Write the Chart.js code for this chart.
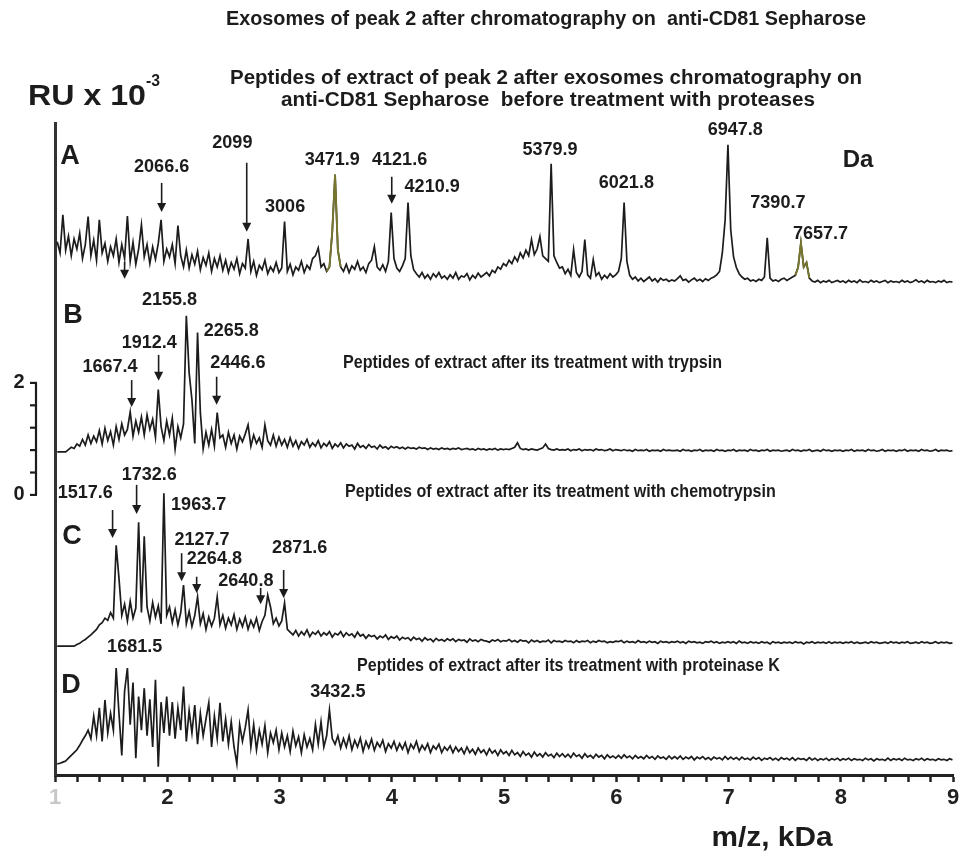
<!DOCTYPE html>
<html>
<head>
<meta charset="utf-8">
<script src="https://cdn.jsdelivr.net/npm/chart.js@4.4.1/dist/chart.umd.min.js"></script>
<style>
  html, body { margin: 0; padding: 0; background: #fff; }
  #chart { display: block; }
</style>
</head>
<body>
<canvas id="chart" width="969" height="856"></canvas>
<script>
"use strict";

// m/z sampling of the spectra, kDa
const mzStart = 1.02;
const mzStep = 0.025;

// intensities (RU x 10^-3) above each trace's own baseline, one value per sample
const spectrumA = [
  0.75, 0.55, 1.23, 0.60, 0.85, 0.50, 0.80, 0.62, 0.90, 0.45, 0.70, 1.20, 0.50, 0.78, 0.42, 1.14, 0.55, 0.72, 0.40, 0.66,
  0.50, 0.80, 0.38, 0.70, 0.45, 1.21, 0.40, 0.74, 0.35, 0.62, 1.05, 0.48, 0.70, 0.36, 0.66, 0.44, 0.72, 1.14, 0.40, 0.62,
  0.48, 0.70, 0.36, 1.04, 0.50, 0.30, 0.60, 0.28, 0.52, 0.35, 0.58, 0.25, 0.47, 0.33, 0.55, 0.22, 0.45, 0.30, 0.50, 0.24,
  0.42, 0.20, 0.38, 0.26, 0.45, 0.18, 0.36, 0.28, 0.80, 0.22, 0.40, 0.15, 0.33, 0.25, 0.42, 0.18, 0.30, 0.22, 0.38, 0.20,
  0.28, 1.11, 0.22, 0.35, 0.16, 0.30, 0.24, 0.40, 0.20, 0.33, 0.26, 0.45, 0.50, 0.64, 0.30, 0.36, 0.22, 0.30, 0.93, 1.95,
  0.60, 0.30, 0.22, 0.35, 0.20, 0.32, 0.26, 0.40, 0.24, 0.30, 0.20, 0.36, 0.42, 0.66, 0.30, 0.24, 0.34, 0.22, 0.40, 1.27,
  0.45, 0.28, 0.22, 0.32, 0.45, 1.45, 0.50, 0.25, 0.18, 0.12, 0.20, 0.10, 0.16, 0.08, 0.18, 0.12, 0.20, 0.10, 0.14, 0.08,
  0.16, 0.10, 0.20, 0.08, 0.14, 0.12, 0.18, 0.07, 0.15, 0.10, 0.19, 0.12, 0.16, 0.20, 0.14, 0.24, 0.20, 0.30, 0.26, 0.36,
  0.32, 0.42, 0.36, 0.48, 0.40, 0.55, 0.46, 0.60, 0.50, 0.79, 0.52, 0.62, 0.84, 0.50, 0.45, 0.40, 2.14, 0.50, 0.38, 0.28,
  0.30, 0.18, 0.26, 0.15, 0.61, 0.20, 0.12, 0.22, 0.79, 0.16, 0.10, 0.43, 0.14, 0.20, 0.08, 0.15, 0.10, 0.18, 0.12, 0.16,
  0.22, 0.45, 1.45, 0.40, 0.15, 0.08, 0.12, 0.05, 0.10, 0.04, 0.08, 0.12, 0.05, 0.09, 0.03, 0.10, 0.06, 0.08, 0.04, 0.07,
  0.05, 0.09, 0.14, 0.06, 0.08, 0.03, 0.07, 0.10, 0.05, 0.08, 0.04, 0.09, 0.06, 0.10, 0.12, 0.16, 0.22, 0.55, 1.14, 2.48,
  0.96, 0.48, 0.29, 0.18, 0.12, 0.08, 0.10, 0.05, 0.07, 0.04, 0.08, 0.06, 0.12, 0.82, 0.10, 0.05, 0.07, 0.04, 0.08, 0.10,
  0.06, 0.09, 0.12, 0.15, 0.29, 0.73, 0.30, 0.38, 0.10, 0.05, 0.03, 0.06, 0.02, 0.05, 0.03, 0.06, 0.02, 0.04, 0.06, 0.03,
  0.05, 0.02, 0.06, 0.03, 0.05, 0.02, 0.07, 0.03, 0.04, 0.02, 0.06, 0.03, 0.05, 0.02, 0.04, 0.06, 0.02, 0.05, 0.03, 0.04,
  0.02, 0.06, 0.03, 0.05, 0.02, 0.04, 0.07, 0.03, 0.05, 0.02, 0.06, 0.03, 0.04, 0.02, 0.05, 0.03, 0.06, 0.02, 0.04, 0.03
];

const spectrumB = [
  0, 0, 0, 0, 0.04, 0.08, 0.06, 0.14, 0.10, 0.22, 0.12, 0.30, 0.15, 0.28, 0.18, 0.38, 0.14, 0.42, 0.20, 0.36,
  0.12, 0.45, 0.22, 0.50, 0.30, 0.40, 0.71, 0.28, 0.55, 0.35, 0.62, 0.30, 0.66, 0.40, 0.58, 0.26, 1.11, 0.45, 0.20, 0.55,
  0.30, 0.60, 0.05, 0.45, 0.25, 0.50, 2.43, 1.41, 0.93, 0.15, 2.13, 0.70, 0.05, 0.35, 0.12, 0.40, 0.10, 0.70, 0.25, 0.30,
  0.08, 0.35, 0.15, 0.30, 0.05, 0.28, 0.18, 0.32, 0.48, 0.10, 0.30, 0.15, 0.25, 0.08, 0.48, 0.20, 0.12, 0.30, 0.10, 0.26,
  0.12, 0.22, 0.08, 0.25, 0.10, 0.20, 0.06, 0.18, 0.12, 0.22, 0.08, 0.16, 0.10, 0.20, 0.07, 0.15, 0.10, 0.18, 0.06, 0.14,
  0.09, 0.16, 0.07, 0.14, 0.10, 0.12, 0.05, 0.15, 0.08, 0.11, 0.06, 0.13, 0.08, 0.10, 0.05, 0.12, 0.07, 0.09, 0.05, 0.10,
  0.07, 0.09, 0.06, 0.08, 0.05, 0.08, 0.06, 0.07, 0.05, 0.08, 0.06, 0.07, 0.04, 0.07, 0.05, 0.06, 0.04, 0.07, 0.05, 0.06,
  0.04, 0.06, 0.05, 0.07, 0.04, 0.05, 0.06, 0.04, 0.05, 0.03, 0.06, 0.04, 0.05, 0.03, 0.05, 0.04, 0.06, 0.03, 0.05, 0.04,
  0.05, 0.04, 0.06, 0.08, 0.16, 0.06, 0.04, 0.05, 0.03, 0.05, 0.04, 0.03, 0.05, 0.07, 0.14, 0.06, 0.04, 0.03, 0.05, 0.03,
  0.04, 0.03, 0.05, 0.02, 0.04, 0.03, 0.05, 0.02, 0.04, 0.03, 0.04, 0.02, 0.05, 0.03, 0.04, 0.02, 0.03, 0.05, 0.02, 0.04,
  0.03, 0.02, 0.04, 0.02, 0.03, 0.01, 0.04, 0.02, 0.03, 0.02, 0.04, 0.01, 0.03, 0.02, 0.03, 0.01, 0.04, 0.02, 0.03, 0.02,
  0.02, 0.03, 0.01, 0.04, 0.02, 0.03, 0.01, 0.03, 0.02, 0.04, 0.01, 0.03, 0.02, 0.03, 0.01, 0.04, 0.02, 0.03, 0.01, 0.03,
  0.02, 0.04, 0.01, 0.03, 0.02, 0.03, 0.01, 0.04, 0.02, 0.03, 0.01, 0.03, 0.02, 0.04, 0.01, 0.03, 0.02, 0.03, 0.01, 0.02,
  0.03, 0.01, 0.04, 0.02, 0.03, 0.01, 0.03, 0.02, 0.04, 0.01, 0.02, 0.03, 0.01, 0.04, 0.02, 0.03, 0.01, 0.03, 0.02, 0.03,
  0.01, 0.03, 0.02, 0.04, 0.01, 0.03, 0.02, 0.03, 0.01, 0.04, 0.02, 0.03, 0.01, 0.02, 0.04, 0.01, 0.03, 0.02, 0.03, 0.01,
  0.03, 0.02, 0.04, 0.01, 0.03, 0.02, 0.03, 0.01, 0.04, 0.02, 0.03, 0.01, 0.02, 0.04, 0.01, 0.03, 0.02, 0.03, 0.01, 0.02
];

const spectrumC = [
  0, 0, 0, 0, 0, 0, 0, 0.03, 0.05, 0.09, 0.12, 0.16, 0.20, 0.25, 0.30, 0.38, 0.42, 0.50, 0.46, 0.60,
  0.50, 1.80, 1.21, 0.55, 0.75, 0.45, 0.80, 0.50, 0.68, 2.21, 0.60, 1.96, 0.70, 0.45, 0.78, 0.52, 0.72, 0.40, 2.73, 0.55,
  0.70, 0.42, 0.65, 0.38, 0.60, 1.09, 0.40, 0.62, 0.35, 0.55, 0.88, 0.40, 0.58, 0.30, 0.52, 0.36, 0.50, 0.88, 0.38, 0.55,
  0.32, 0.50, 0.38, 0.56, 0.30, 0.48, 0.35, 0.52, 0.30, 0.46, 0.34, 0.50, 0.28, 0.44, 0.55, 0.91, 0.70, 0.40, 0.50, 0.36,
  0.45, 0.77, 0.30, 0.25, 0.20, 0.28, 0.18, 0.26, 0.20, 0.29, 0.17, 0.25, 0.21, 0.27, 0.18, 0.24, 0.20, 0.26, 0.16, 0.23,
  0.20, 0.26, 0.17, 0.24, 0.19, 0.22, 0.16, 0.25, 0.18, 0.21, 0.14, 0.20, 0.17, 0.19, 0.13, 0.18, 0.15, 0.20, 0.12, 0.17,
  0.14, 0.18, 0.11, 0.16, 0.13, 0.15, 0.10, 0.16, 0.12, 0.14, 0.09, 0.15, 0.11, 0.13, 0.08, 0.14, 0.10, 0.12, 0.09, 0.13,
  0.10, 0.13, 0.08, 0.12, 0.10, 0.11, 0.07, 0.13, 0.09, 0.11, 0.08, 0.12, 0.10, 0.09, 0.07, 0.11, 0.09, 0.12, 0.08, 0.10,
  0.09, 0.12, 0.08, 0.10, 0.07, 0.11, 0.09, 0.10, 0.06, 0.11, 0.08, 0.10, 0.07, 0.09, 0.08, 0.11, 0.06, 0.10, 0.08, 0.09,
  0.07, 0.10, 0.08, 0.09, 0.06, 0.10, 0.07, 0.09, 0.08, 0.10, 0.06, 0.09, 0.07, 0.10, 0.08, 0.09, 0.06, 0.08, 0.07, 0.09,
  0.08, 0.10, 0.06, 0.09, 0.07, 0.08, 0.06, 0.10, 0.07, 0.08, 0.06, 0.09, 0.07, 0.08, 0.05, 0.09, 0.07, 0.08, 0.06, 0.08,
  0.07, 0.09, 0.06, 0.08, 0.05, 0.09, 0.07, 0.08, 0.06, 0.07, 0.05, 0.08, 0.07, 0.09, 0.06, 0.08, 0.05, 0.07, 0.06, 0.08,
  0.06, 0.08, 0.05, 0.09, 0.06, 0.07, 0.05, 0.08, 0.06, 0.07, 0.05, 0.08, 0.06, 0.07, 0.04, 0.08, 0.06, 0.07, 0.05, 0.07,
  0.06, 0.07, 0.05, 0.08, 0.06, 0.07, 0.04, 0.07, 0.06, 0.08, 0.05, 0.07, 0.06, 0.07, 0.05, 0.08, 0.05, 0.07, 0.06, 0.07,
  0.05, 0.07, 0.06, 0.08, 0.05, 0.07, 0.05, 0.06, 0.07, 0.05, 0.08, 0.06, 0.07, 0.05, 0.06, 0.07, 0.05, 0.08, 0.06, 0.07,
  0.05, 0.07, 0.06, 0.08, 0.05, 0.06, 0.07, 0.05, 0.08, 0.06, 0.07, 0.05, 0.06, 0.08, 0.05, 0.07, 0.06, 0.07, 0.05, 0.06
];

const spectrumD = [
  0, 0.01, 0.03, 0.05, 0.10, 0.15, 0.20, 0.25, 0.33, 0.42, 0.50, 0.60, 0.45, 0.85, 0.50, 1.00, 0.40, 1.14, 0.55, 0.90,
  0.60, 1.71, 0.90, 0.15, 1.30, 1.71, 0.70, 1.45, 0.10, 1.20, 0.60, 1.35, 0.50, 1.15, 0.30, 1.50, -0.05, 1.10, 0.55, 1.20,
  0.50, 1.10, 0.45, 1.00, 0.60, 1.38, 0.40, 0.95, 0.55, 1.05, 0.35, 0.90, 0.50, 0.80, 1.09, 0.30, 0.85, 0.45, 1.09, 0.40,
  0.80, 0.35, 0.75, 0.30, 0.00, 0.70, 0.40, 0.65, 0.96, 0.30, 0.70, 0.25, 0.60, 0.35, 0.68, 0.20, 0.55, 0.38, 0.60, 0.25,
  0.55, 0.30, 0.50, 0.22, 0.58, 0.32, 0.48, 0.20, 0.52, 0.30, 0.45, 0.25, 0.70, 0.35, 0.75, 0.30, 0.50, 0.96, 0.45, 0.35,
  0.50, 0.28, 0.45, 0.30, 0.50, 0.25, 0.42, 0.30, 0.46, 0.22, 0.40, 0.28, 0.44, 0.24, 0.38, 0.30, 0.42, 0.22, 0.36, 0.28,
  0.40, 0.24, 0.36, 0.26, 0.38, 0.20, 0.35, 0.27, 0.40, 0.22, 0.33, 0.25, 0.36, 0.20, 0.32, 0.26, 0.35, 0.20, 0.30, 0.24,
  0.32, 0.20, 0.30, 0.22, 0.28, 0.18, 0.30, 0.20, 0.26, 0.17, 0.28, 0.20, 0.25, 0.16, 0.27, 0.19, 0.24, 0.15, 0.25, 0.18,
  0.22, 0.15, 0.24, 0.16, 0.20, 0.13, 0.22, 0.15, 0.19, 0.12, 0.21, 0.14, 0.18, 0.12, 0.20, 0.14, 0.17, 0.11, 0.19, 0.13,
  0.18, 0.12, 0.17, 0.11, 0.19, 0.13, 0.16, 0.10, 0.18, 0.12, 0.15, 0.10, 0.17, 0.12, 0.15, 0.09, 0.16, 0.11, 0.14, 0.10,
  0.15, 0.10, 0.16, 0.11, 0.14, 0.09, 0.15, 0.10, 0.13, 0.09, 0.15, 0.10, 0.13, 0.08, 0.14, 0.10, 0.12, 0.08, 0.14, 0.09,
  0.13, 0.09, 0.14, 0.08, 0.12, 0.09, 0.13, 0.07, 0.12, 0.09, 0.13, 0.08, 0.11, 0.07, 0.12, 0.09, 0.11, 0.07, 0.13, 0.08,
  0.12, 0.08, 0.11, 0.07, 0.12, 0.08, 0.10, 0.07, 0.12, 0.08, 0.11, 0.06, 0.10, 0.08, 0.11, 0.07, 0.10, 0.06, 0.11, 0.08,
  0.10, 0.07, 0.11, 0.06, 0.10, 0.08, 0.09, 0.06, 0.11, 0.07, 0.10, 0.06, 0.09, 0.07, 0.10, 0.06, 0.09, 0.07, 0.10, 0.06,
  0.09, 0.07, 0.10, 0.06, 0.09, 0.07, 0.08, 0.06, 0.10, 0.07, 0.09, 0.05, 0.09, 0.07, 0.08, 0.06, 0.10, 0.06, 0.09, 0.07,
  0.09, 0.06, 0.10, 0.07, 0.08, 0.06, 0.09, 0.07, 0.10, 0.06, 0.09, 0.07, 0.08, 0.06, 0.09, 0.07, 0.08, 0.06, 0.09, 0.07
];

// m/z ranges of trace A drawn in olive in the original figure
const oliveSpans = [[3.415, 3.55], [7.59, 7.725]];

// peak labels in trace A..D: text, m/z (kDa), RU
const peakLabels = [
  ["2066.6", 1.95, 5.86], ["2099", 2.58, 6.29], ["3006", 3.05, 5.14], ["3471.9", 3.47, 5.98],
  ["4121.6", 4.07, 5.98], ["4210.9", 4.36, 5.50], ["5379.9", 5.41, 6.16], ["6021.8", 6.09, 5.57],
  ["6947.8", 7.06, 6.52], ["7390.7", 7.44, 5.21], ["7657.7", 7.82, 4.66],
  ["2155.8", 2.02, 3.48], ["2265.8", 2.57, 2.93], ["1912.4", 1.84, 2.71], ["1667.4", 1.49, 2.29],
  ["2446.6", 2.63, 2.36],
  ["1732.6", 1.84, 0.36], ["1517.6", 1.27, 0.04], ["1963.7", 2.28, -0.18], ["2127.7", 2.31, -0.80],
  ["2264.8", 2.42, -1.14], ["2640.8", 2.70, -1.54], ["2871.6", 3.18, -0.95],
  ["1681.5", 1.71, -2.71], ["3432.5", 3.52, -3.52]
];

// arrows: m/z, RU of tail, RU of head
const arrows = [
  [1.95, 5.57, 5.05], [2.708, 5.93, 4.70], [1.62, 4.16, 3.86], [4.0, 5.68, 5.20],
  [1.683, 2.05, 1.57], [1.923, 2.50, 2.04], [2.44, 2.11, 1.61],
  [1.513, -0.27, -0.77], [1.727, 0.18, -0.34], [2.128, -1.04, -1.54], [2.262, -1.46, -1.75],
  [2.832, -1.66, -1.95], [3.037, -1.34, -1.84]
];

// RU scale bar on the left
const scaleBarTicks = [0, 0.4, 0.8, 1.2, 1.6, 2];
const scaleBarLabels = [[0, "0"], [2, "2"]];

// vertical stacking of the four traces (RU)
const traceOffsets = { A: 3.77, B: 0.77, C: -2.70, D: -4.80 };

const INK = "#1c1c1c";
const OLIVE = "#77762e";
const SANS = "'Liberation Sans', Arial, sans-serif";

function tracePoints(values, offset) {
  return values.map((v, i) => ({ x: mzStart + i * mzStep, y: offset + v }));
}

function lineSet(points, color, width, order) {
  return {
    data: points, borderColor: color, borderWidth: width, pointRadius: 0,
    fill: false, tension: 0, order: order
  };
}

const ptsA = tracePoints(spectrumA, traceOffsets.A);
const datasets = [];
oliveSpans.forEach(([lo, hi]) => {
  datasets.push(lineSet(ptsA.filter(p => p.x >= lo && p.x <= hi), OLIVE, 1.9, 0));
});
datasets.push(lineSet(ptsA, INK, 1.7, 1));
datasets.push(lineSet(tracePoints(spectrumB, traceOffsets.B), INK, 1.7, 1));
datasets.push(lineSet(tracePoints(spectrumC, traceOffsets.C), INK, 1.7, 1));
datasets.push(lineSet(tracePoints(spectrumD, traceOffsets.D), INK, 1.7, 1));

function drawScaled(ctx, text, x, y, font, sx, align) {
  ctx.save();
  ctx.font = font;
  ctx.translate(x, y);
  ctx.scale(sx, 1);
  ctx.textAlign = align || "center";
  ctx.textBaseline = "middle";
  ctx.fillText(text, 0, 0);
  ctx.restore();
}

function drawFit(ctx, text, x, y, font, width, align) {
  ctx.save();
  ctx.font = font;
  const w = ctx.measureText(text).width;
  ctx.restore();
  drawScaled(ctx, text, x, y, font, width / w, align);
}

function drawArrow(ctx, x, y1, y2) {
  ctx.beginPath();
  ctx.moveTo(x, y1);
  ctx.lineTo(x, y2 - 6);
  ctx.lineWidth = 1.6;
  ctx.stroke();
  ctx.beginPath();
  ctx.moveTo(x - 4.5, y2 - 9);
  ctx.lineTo(x + 4.5, y2 - 9);
  ctx.lineTo(x, y2);
  ctx.closePath();
  ctx.fill();
}

const annotations = {
  id: "annotations",
  afterDraw(chart) {
    const ctx = chart.ctx;
    const xs = chart.scales.x, ys = chart.scales.y;
    ctx.save();
    ctx.fillStyle = INK;
    ctx.strokeStyle = INK;

    // titles
    const titleFont = "bold 20px " + SANS;
    drawFit(ctx, "Exosomes of peak 2 after chromatography on  anti-CD81 Sepharose", 546, 19, titleFont, 640);
    drawFit(ctx, "Peptides of extract of peak 2 after exosomes chromatography on", 546, 78, titleFont, 632);
    drawFit(ctx, "anti-CD81 Sepharose  before treatment with proteases", 548, 100, titleFont, 534);

    // y unit
    drawFit(ctx, "RU x 10", 28, 97, "bold 29px " + SANS, 118, "left");
    drawFit(ctx, "-3", 146, 82, "bold 16px " + SANS, 14, "left");

    // panel letters
    const letterFont = "bold 27px " + SANS;
    drawScaled(ctx, "A", 70, 157, letterFont, 1, "center");
    drawScaled(ctx, "B", 73, 316, letterFont, 1, "center");
    drawScaled(ctx, "C", 72, 537, letterFont, 1, "center");
    drawScaled(ctx, "D", 71, 686, letterFont, 1, "center");
    drawScaled(ctx, "Da", 858, 160, "bold 24px " + SANS, 1, "center");

    // panel descriptions
    const descFont = "bold 19px " + SANS;
    ctx.font = descFont;
    const descB = "Peptides of extract after its treatment with trypsin";
    const sxDesc = 379 / ctx.measureText(descB).width;
    drawScaled(ctx, descB, 343, 363, descFont, sxDesc, "left");
    drawScaled(ctx, "Peptides of extract after its treatment with chemotrypsin", 345, 492, descFont, sxDesc, "left");
    drawScaled(ctx, "Peptides of extract after its treatment with proteinase K", 357, 666, descFont, sxDesc, "left");

    // peak labels and arrows
    const peakFont = "bold 19px " + SANS;
    peakLabels.forEach(([t, mz, ru]) => {
      drawScaled(ctx, t, xs.getPixelForValue(mz), ys.getPixelForValue(ru), peakFont, 0.95, "center");
    });
    arrows.forEach(([mz, ru1, ru2]) => {
      drawArrow(ctx, xs.getPixelForValue(mz), ys.getPixelForValue(ru1), ys.getPixelForValue(ru2));
    });

    // scale bar
    const bx = 36;
    ctx.lineWidth = 2.2;
    ctx.beginPath();
    ctx.moveTo(bx, ys.getPixelForValue(scaleBarTicks[0]));
    ctx.lineTo(bx, ys.getPixelForValue(scaleBarTicks[scaleBarTicks.length - 1]));
    ctx.stroke();
    scaleBarTicks.forEach(v => {
      const py = ys.getPixelForValue(v);
      ctx.beginPath();
      ctx.moveTo(bx + 1, py);
      ctx.lineTo(bx - 6, py);
      ctx.stroke();
    });
    scaleBarLabels.forEach(([v, t]) => {
      drawScaled(ctx, t, 19, ys.getPixelForValue(v), "bold 20px " + SANS, 1, "center");
    });

    // x title
    drawFit(ctx, "m/z, kDa", 772, 839, "bold 27px " + SANS, 121, "center");
    ctx.restore();
  }
};

new Chart(document.getElementById("chart"), {
  type: "line",
  data: { datasets: datasets },
  options: {
    responsive: false,
    animation: false,
    layout: { padding: { left: 55, right: 16, top: 123, bottom: 0 } },
    plugins: { legend: { display: false }, tooltip: { enabled: false } },
    elements: { point: { radius: 0 }, line: { tension: 0 } },
    scales: {
      x: {
        type: "linear", min: 1, max: 9,
        afterFit: (s) => { s.height = 81; s.paddingLeft = 0; s.paddingRight = 0; },
        border: { display: true, width: 3, color: "#222" },
        grid: { display: true, drawOnChartArea: false, drawTicks: true, tickLength: 7, tickWidth: 2.5, tickColor: "#222", color: "#222" },
        ticks: {
          stepSize: 0.2, autoSkip: false, maxRotation: 0, padding: 3,
          color: (c) => (Math.abs(c.tick.value - 1) < 1e-6 ? "#c8c8c8" : "#222"),
          font: { family: SANS, size: 22, weight: "bold" },
          callback: (value) => {
            const r = Math.round(value * 5) / 5;
            return Math.abs(r - Math.round(r)) < 1e-6 ? String(Math.round(r)) : "";
          }
        }
      },
      y: {
        type: "linear", min: -5, max: 6.64,
        afterFit: (s) => { s.width = 0; },
        border: { display: true, width: 3, color: "#333" },
        grid: { display: false },
        ticks: { display: false }
      }
    }
  },
  plugins: [annotations]
});
</script>
</body>
</html>
